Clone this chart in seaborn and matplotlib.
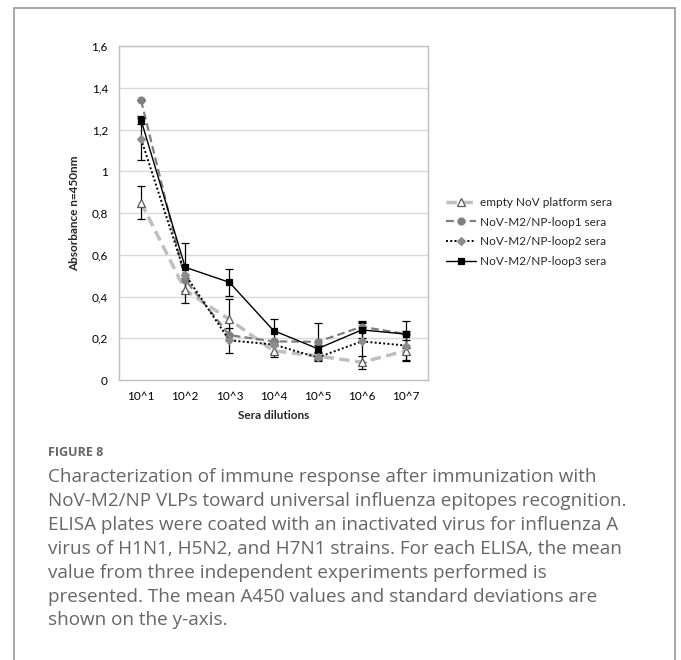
import matplotlib
matplotlib.use("Agg")
import matplotlib.pyplot as plt
import matplotlib.patches as mpatches
import seaborn as sns
import pandas as pd

dilutions = ["10^1", "10^2", "10^3", "10^4", "10^5", "10^6", "10^7"]
series_names = ["empty NoV platform sera", "NoV-M2/NP-loop1 sera",
                "NoV-M2/NP-loop2 sera", "NoV-M2/NP-loop3 sera"]

empty_mean = [0.85, 0.43, 0.29, 0.14, 0.115, 0.085, 0.14]
empty_sd = [0.08, 0.06, 0.10, 0.03, 0.02, 0.03, 0.05]
loop1_mean = [1.34, 0.48, 0.215, 0.185, 0.183, 0.255, 0.22]
loop1_sd = [0.0, 0.0, 0.0, 0.0, 0.09, 0.02, 0.0]
loop2_mean = [1.155, 0.505, 0.19, 0.17, 0.108, 0.185, 0.165]
loop2_sd = [0.10, 0.0, 0.06, 0.0, 0.0, 0.10, 0.07]
loop3_mean = [1.245, 0.54, 0.468, 0.237, 0.15, 0.24, 0.22]
loop3_sd = [0.02, 0.115, 0.065, 0.055, 0.02, 0.04, 0.065]

means = [empty_mean, loop1_mean, loop2_mean, loop3_mean]
sds = [empty_sd, loop1_sd, loop2_sd, loop3_sd]

# style per series: line colour, width, dashes, marker, marker face, marker edge, size
styles = [
    ("#BFBFBF", 2.5, (3, 1.6), "^", "white", "#595959", 6),
    ("#7F7F7F", 1.6, (3.5, 1.8), "o", "#808080", "#808080", 5),
    ("#000000", 1.4, (1, 1.2), "D", "#8C8C8C", "#8C8C8C", 4.2),
    ("#000000", 1.0, "", "s", "#000000", "#000000", 4.3),
]

sns.set_style("white")
plt.rcParams["font.family"] = ["Lato", "DejaVu Sans"]

fig = plt.figure(figsize=(6.81, 6.60), dpi=100)
ax = fig.add_axes([119 / 681, 1 - 380 / 660, (428 - 119) / 681, (380 - 46) / 660])

handles = []
for name, m, sd, st in zip(series_names, means, sds, styles):
    color, lw, dash, marker, mfc, mec, ms = st
    df = pd.DataFrame({"x": range(len(dilutions)), "y": m})
    ax.errorbar(df["x"], df["y"], yerr=sd, fmt="none", ecolor="black",
                elinewidth=0.9, capsize=3, capthick=0.9, zorder=3)
    sns.lineplot(data=df, x="x", y="y", ax=ax, color=color, linewidth=lw,
                 marker=marker, markerfacecolor=mfc, markeredgecolor=mec,
                 markersize=ms, markeredgewidth=0.9, label=name, zorder=4)
    line = ax.get_lines()[-1]
    if dash:
        line.set_dashes(dash)
    handles.append(line)

ax.set_xlim(-0.5, 6.5)
ax.set_ylim(0, 1.6)
ax.set_xticks(range(len(dilutions)))
ax.set_xticklabels(dilutions)
ticks = [0, 0.2, 0.4, 0.6, 0.8, 1.0, 1.2, 1.4, 1.6]
ax.set_yticks(ticks)
ax.set_yticklabels([f"{t:g}".replace(".", ",") for t in ticks])
ax.tick_params(axis="both", length=0, labelsize=8.5, colors="#000000", pad=8)
ax.grid(axis="y", color="#D9D9D9", linewidth=1)
ax.set_axisbelow(True)
for sp in ax.spines.values():
    sp.set_color("#BFBFBF")
    sp.set_linewidth(1)

ax.set_xlabel("Sera dilutions", fontsize=8.5, fontweight="bold", labelpad=6)
ax.set_ylabel("Absorbance n=450nm", fontsize=8.5, fontweight="bold", labelpad=8)

ax.get_legend().remove()
leg = fig.legend(handles=handles, labels=series_names, loc="upper left",
                 bbox_to_anchor=(441 / 681, 1 - 192 / 660), frameon=False,
                 fontsize=8.5, handlelength=2.6, handletextpad=0.3,
                 labelspacing=0.75, borderaxespad=0)

# outer frame and caption
fig.patches.append(mpatches.Rectangle((14 / 681, -0.01), (675 - 14) / 681, 1 - 8 / 660 + 0.01,
                                      transform=fig.transFigure, fill=False,
                                      edgecolor="#9A9A9A", linewidth=1.2))
fig.text(48 / 681, 1 - 453 / 660, "FIGURE 8", fontsize=9, color="#666666",
         fontweight="bold", va="center", family=["Open Sans", "DejaVu Sans"])
caption = ["Characterization of immune response after immunization with",
           "NoV-M2/NP VLPs toward universal influenza epitopes recognition.",
           "ELISA plates were coated with an inactivated virus for influenza A",
           "virus of H1N1, H5N2, and H7N1 strains. For each ELISA, the mean",
           "value from three independent experiments performed is",
           "presented. The mean A450 values and standard deviations are",
           "shown on the y-axis."]
for i, line in enumerate(caption):
    fig.text(48 / 681, 1 - (477 + 23.9 * i) / 660, line, fontsize=13.6,
             color="#666666", va="center", family=["Open Sans", "DejaVu Sans"])

fig.savefig("out.png", dpi=100)
